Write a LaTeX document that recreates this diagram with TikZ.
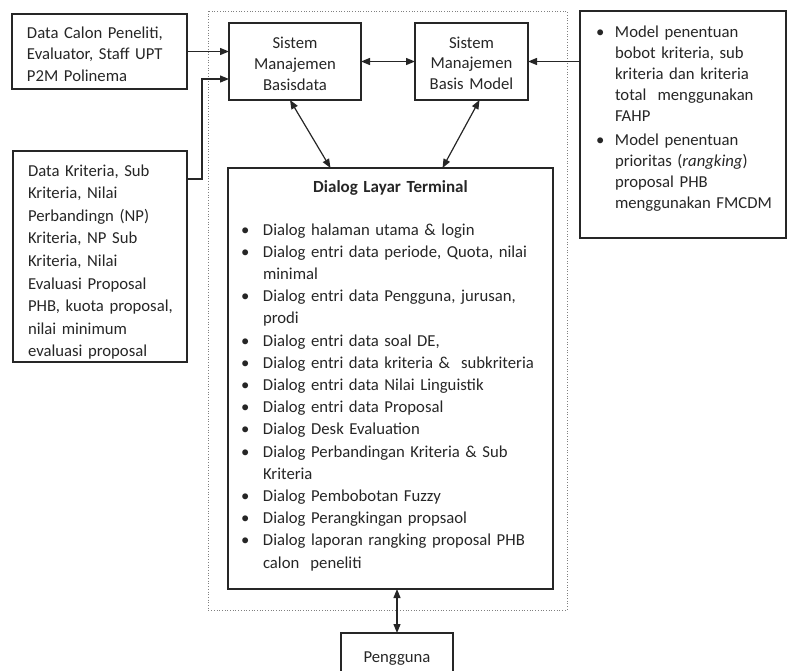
\documentclass[tikz,border=0pt]{standalone}
\usepackage{fontspec}
\setmainfont{Carlito}[WordSpace=0.85]
\usepackage{xcolor}
\usetikzlibrary{arrows.meta}
\definecolor{ink}{HTML}{262626}
\newcommand{\bul}{\makebox[22pt][l]{\textbullet}}
\newcommand{\cnt}{\hspace*{22pt}}
\newcommand{\bulm}{\makebox[19pt][l]{\textbullet}}
\newcommand{\cntm}{\hspace*{19pt}}

\begin{document}
\begin{tikzpicture}[x=1pt,y=-1pt,
  box/.style={draw=ink, text=ink, line width=1.2pt, anchor=north west, inner ysep=0pt, outer sep=0pt, align=left},
  arr/.style={draw=ink, line width=1.2pt, -{Triangle[length=9pt,width=7pt]}},
  darr/.style={draw=ink, line width=1.2pt, {Triangle[length=9pt,width=7pt]}-{Triangle[length=9pt,width=7pt]}},
  frame/.style={draw=gray, dotted, line width=0.7pt}]
\useasboundingbox (0,0) rectangle (787,670);
\draw[frame] (208,11) rectangle (567,610);
%%
\node[box, text width=145pt, inner xsep=15pt, text height=24pt, text depth=51pt,
  font=\fontsize{16.7}{21.5}\selectfont] (calon) at (12,14)
  {\begin{tabular}[t]{@{}l@{}}Data Calon Peneliti,\\Evaluator, Staff UPT\\P2M Polinema\end{tabular}};
\node[box, text width=144pt, inner xsep=15pt, text height=25pt, text depth=186pt,
  font=\fontsize{16.7}{22.6}\selectfont] (kriteria) at (13,151)
  {\begin{tabular}[t]{@{}l@{}}Data Kriteria, Sub\\Kriteria, Nilai\\Perbandingn (NP)\\Kriteria, NP Sub\\Kriteria, Nilai\\Evaluasi Proposal\\PHB, kuota proposal,\\nilai minimum\\evaluasi proposal\end{tabular}};
%%
\node[box, align=center, text width=122pt, inner xsep=5pt, text height=25pt, text depth=52pt,
  font=\fontsize{16.7}{21}\selectfont] (smb) at (229,23)
  {\begin{tabular}[t]{@{}c@{}}Sistem\\Manajemen\\Basisdata\end{tabular}};
\node[box, align=center, text width=103pt, inner xsep=5pt, text height=25pt, text depth=52pt,
  font=\fontsize{16.7}{20.5}\selectfont] (smbm) at (415,23)
  {\begin{tabular}[t]{@{}c@{}}Sistem\\Manajemen\\Basis Model\end{tabular}};
%%
\node[box, text width=174pt, inner xsep=16pt, text height=26pt, text depth=201pt,
  font=\fontsize{16.7}{21.2}\selectfont] (model) at (580,11)
  {\begin{tabular}[t]{@{}l@{}}\bulm Model penentuan\\ \cntm bobot kriteria, sub\\ \cntm kriteria dan kriteria\\ \cntm total\ \ menggunakan\\ \cntm FAHP\\[2pt]
   \bulm Model penentuan\\ \cntm prioritas (\textit{rangking})\\ \cntm proposal PHB\\ \cntm menggunakan FMCDM\end{tabular}};
%%
\node[box, text width=299pt, inner xsep=13pt, text height=24pt, text depth=397pt,
  font=\fontsize{16.7}{22.2}\selectfont] (dialog) at (228,168)
  {\makebox[\linewidth]{\fontsize{17}{22.2}\selectfont\bfseries Dialog Layar Terminal}\par\vspace{20.8pt}
   \begin{tabular}[t]{@{}l@{}}\bul Dialog halaman utama \& login\\ \bul Dialog entri data periode, Quota, nilai\\ \cnt minimal\\
   \bul Dialog entri data Pengguna, jurusan,\\ \cnt prodi\\ \bul Dialog entri data soal DE,\\ \bul Dialog entri data kriteria \&\ \ subkriteria\\
   \bul Dialog entri data Nilai Linguistik\\ \bul Dialog entri data Proposal\\ \bul Dialog Desk Evaluation\\
   \bul Dialog Perbandingan Kriteria \& Sub\\ \cnt Kriteria\\ \bul Dialog Pembobotan Fuzzy\\ \bul Dialog Perangkingan propsaol\\
   \bul Dialog laporan rangking proposal PHB\\ \cnt calon\ \ peneliti\end{tabular}};
%%
\node[box, align=center, text width=102pt, inner xsep=5pt, text height=29pt, text depth=10pt,
  font=\fontsize{16.7}{21}\selectfont] (pengguna) at (341,633) {Pengguna};
%%
\draw[arr] (calon.east) -- (calon.east -| smb.west);
\draw[arr] ([yshift=-28pt]kriteria.north east) -- ++(15,0) |- ([yshift=-17.5pt]smb.west);
\draw[darr] (smb) -- (smbm);
\draw[arr] (model.west |- smbm) -- (smbm.east);
\draw[darr] ([xshift=-5pt]smb.south) -- ([xshift=-60pt]dialog.north);
\draw[darr] ([xshift=8pt]smbm.south) -- ([xshift=52pt]dialog.north);
\draw[darr] (dialog.south -| pengguna.north) -- (pengguna.north);
\end{tikzpicture}
\end{document}
